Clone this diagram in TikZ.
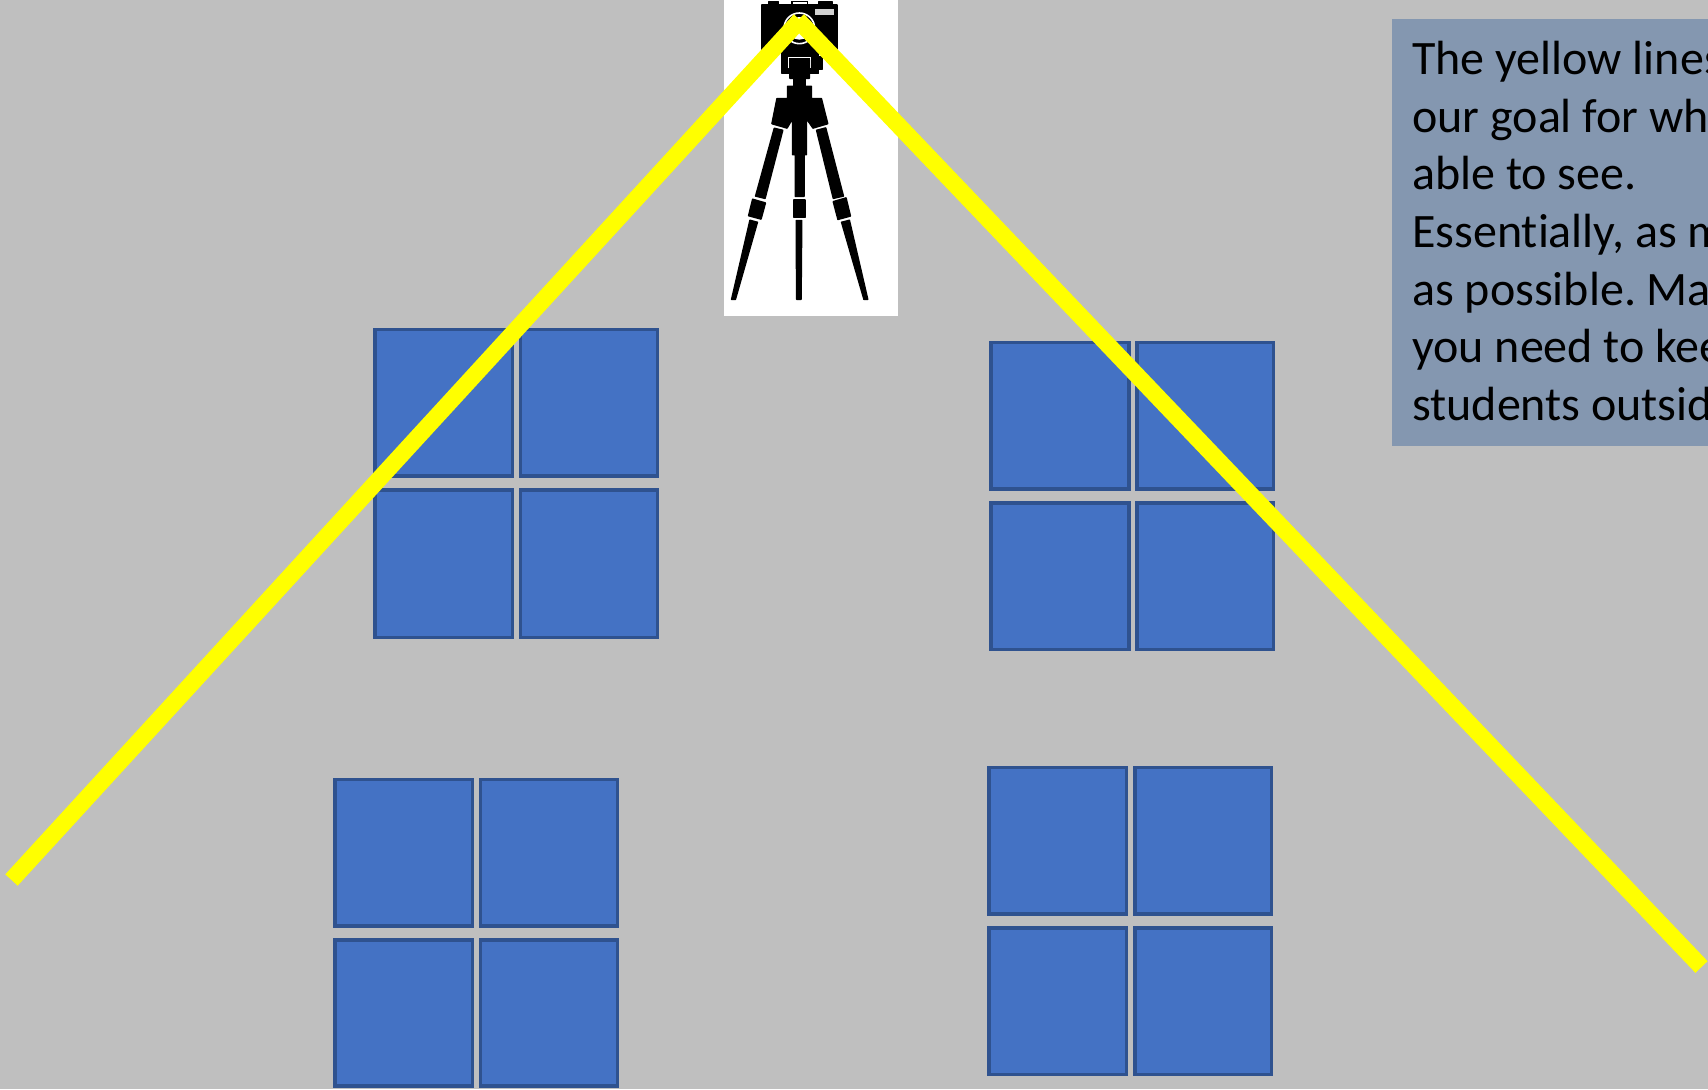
\documentclass[tikz,border=0pt]{standalone}
\usepackage{fontspec}
\setmainfont{Carlito}[Ligatures=NoCommon]
\definecolor{wall}{HTML}{BFBFBF}
\definecolor{pane}{HTML}{4472C4}
\definecolor{paneline}{HTML}{2F528F}
\definecolor{notebox}{HTML}{8497B0}
\definecolor{goal}{HTML}{FFFF00}
\tikzset{
  x=0.75pt,y=-0.75pt,
  panestyle/.style={fill=pane,draw=paneline,line width=2.3pt},
  viewline/.style={draw=goal,line width=12.6pt,line cap=butt},
  notetext/.style={anchor=north west,inner sep=0pt,align=left,text=black,font=\fontsize{36pt}{43.2pt}\selectfont},
  camblack/.style={fill=black,draw=black,line width=1.2pt,line join=round}
}
\newcommand{\windowpanes}[8]{%
  % x1 x2 x3 x4 y1 y2 y3 y4
  \path[panestyle] (#1,#5) rectangle (#2,#6);
  \path[panestyle] (#3,#5) rectangle (#4,#6);
  \path[panestyle] (#1,#7) rectangle (#2,#8);
  \path[panestyle] (#3,#7) rectangle (#4,#8);
}
\begin{document}
\begin{tikzpicture}
\useasboundingbox (0,0) rectangle (1708,1089);
\begin{scope}
\clip (0,0) rectangle (1708,1089);
\fill[wall] (0,0) rectangle (1708,1089);

% camera picture
\fill[white] (724,0) rectangle (898,316);
\begin{scope}[shift={(710,0)},x=0.25pt,y=-0.25pt]
  % camera top
  \path[camblack] (177,5) rectangle (206,14);
  \path[camblack] (327,5) rectangle (366,14);
  \path[camblack] (245,5) rectangle (246,14);
  \path[camblack] (292,5) rectangle (293,14);
  \path[camblack] (245,4) rectangle (293,5);
  \path[camblack] (156,15) rectangle (381,149);
  \fill[gray!35] (315,27) rectangle (372,45);
  \draw[white,line width=1.2pt,fill=black] (268,85) circle (46);
  \fill[white] (268,85) circle (34);
  % head
  \path[camblack] (216,151) -- (325,151) -- (325,170) -- (337,170) -- (337,207) -- (325,207) -- (325,221) -- (216,221) -- cycle;
  \draw[white,line width=0.7pt] (236,205) -- (236,173) -- (302,173) -- (302,205);
  % column and shoulders
  \path[camblack] (240,180) -- (298,180) -- (298,235) -- (285,235) -- (285,259) -- (304,259) -- (304,296) -- (334,296) -- (353,371) -- (309,384) -- (289,355) -- (289,464) -- (282,464) -- (282,589) -- (256,589) -- (256,464) -- (248,464) -- (248,355) -- (231,384) -- (186,371) -- (201,296) -- (233,296) -- (233,259) -- (252,259) -- (252,235) -- (240,235) -- cycle;
  % left leg
  \path[camblack] (193,385) -- (218,391) -- (165,595) -- (137,588) -- cycle;
  \path[camblack] (128,598) -- (166,609) -- (153,657) -- (116,647) -- cycle;
  \path[camblack] (120,661) -- (142,667) -- (76,898) -- (65,898) -- cycle;
  % centre leg
  \path[camblack] (252,600) -- (285,600) -- (285,653) -- (252,653) -- cycle;
  \path[camblack] (259,662) -- (275,662) -- (273,898) -- (260,898) -- cycle;
  % right leg
  \path[camblack] (320,391) -- (347,384) -- (400,588) -- (370,595) -- cycle;
  \path[camblack] (370,605) -- (408,594) -- (421,648) -- (384,658) -- cycle;
  \path[camblack] (395,667) -- (418,661) -- (473,898) -- (462,898) -- cycle;
\end{scope}

% windows
\windowpanes{375}{512.5}{520.5}{657.5}{329.5}{476}{490}{637.5}
\windowpanes{991}{1129}{1137}{1273.5}{342.5}{489}{503}{649.5}
\windowpanes{335}{472.5}{480.5}{617.5}{779.5}{926}{940}{1086}
\windowpanes{989}{1126.5}{1135}{1271.5}{767.5}{914}{928}{1074.5}

% view lines
\coordinate (apexL) at (800,20);
\coordinate (apexR) at (798,20);
\coordinate (endL) at (11.5,880);
\coordinate (endR) at (1701.5,967);
\draw[viewline] (endL) -- (apexL);
\draw[viewline] (endR) -- (apexR);

% note
\fill[notebox] (1392,19) rectangle (1708,446);
\node[notetext] (note) at (1412,41) {The yellow lines\\our goal for wh\\able to see.\\Essentially, as m\\as possible.\kern-3.3pt{} Ma\\you need to kee\\students outsid};
\end{scope}
\end{tikzpicture}
\end{document}
